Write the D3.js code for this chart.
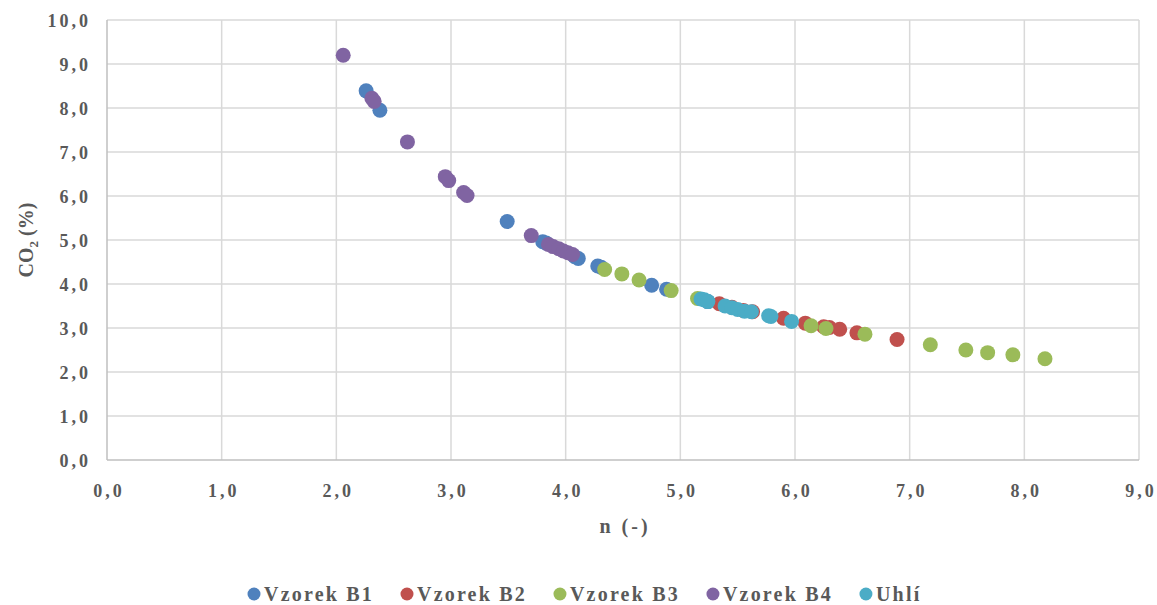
<!DOCTYPE html>
<html>
<head>
<meta charset="utf-8">
<script src="https://cdn.jsdelivr.net/npm/d3@7"></script>
<style>
  html, body { margin: 0; padding: 0; background: #fff; }
  svg { display: block; }
  text { font-family: "Liberation Serif", "Times New Roman", serif; font-weight: bold; fill: #595959; }
</style>
</head>
<body>
<svg id="chart" width="1157" height="605"></svg>
<script>
// Measured samples: n (-) against CO2 (%)
const seriesNames = ["Vzorek B1", "Vzorek B2", "Vzorek B3", "Vzorek B4", "Uhlí"];
const seriesColors = ["#4F81BD", "#C0504D", "#9BBB59", "#8064A2", "#4BACC6"];

const b1N   = [2.26, 2.38, 3.49, 3.80, 3.83, 4.08, 4.11, 4.28, 4.31, 4.75, 4.88, 5.24];
const b1CO2 = [8.39, 7.95, 5.42, 4.96, 4.93, 4.62, 4.58, 4.41, 4.38, 3.97, 3.88, 3.60];

const b2N   = [5.34, 5.45, 5.55, 5.63, 5.90, 6.09, 6.25, 6.30, 6.39, 6.54, 6.89];
const b2CO2 = [3.55, 3.47, 3.40, 3.37, 3.22, 3.11, 3.03, 3.01, 2.97, 2.89, 2.74];

const b3N   = [4.34, 4.49, 4.64, 4.92, 5.15, 6.14, 6.27, 6.61, 7.18, 7.49, 7.68, 7.90, 8.18];
const b3CO2 = [4.33, 4.23, 4.09, 3.85, 3.67, 3.05, 2.99, 2.86, 2.62, 2.50, 2.44, 2.39, 2.30];

const b4N   = [2.06, 2.31, 2.33, 2.62, 2.95, 2.98, 3.11, 3.14, 3.70, 3.85, 3.89, 3.94, 3.98, 4.02, 4.06];
const b4CO2 = [9.20, 8.22, 8.15, 7.23, 6.44, 6.35, 6.08, 6.01, 5.10, 4.90, 4.85, 4.80, 4.75, 4.71, 4.67];

const uhliN   = [5.18, 5.21, 5.24, 5.39, 5.45, 5.50, 5.56, 5.62, 5.77, 5.79, 5.97];
const uhliCO2 = [3.66, 3.64, 3.60, 3.50, 3.46, 3.42, 3.38, 3.37, 3.28, 3.26, 3.15];

const xTicks = [0, 1, 2, 3, 4, 5, 6, 7, 8, 9];
const yTicks = [0, 1, 2, 3, 4, 5, 6, 7, 8, 9, 10];

const series = [
  { name: seriesNames[0], color: seriesColors[0], xs: b1N, ys: b1CO2 },
  { name: seriesNames[1], color: seriesColors[1], xs: b2N, ys: b2CO2 },
  { name: seriesNames[2], color: seriesColors[2], xs: b3N, ys: b3CO2 },
  { name: seriesNames[3], color: seriesColors[3], xs: b4N, ys: b4CO2 },
  { name: seriesNames[4], color: seriesColors[4], xs: uhliN, ys: uhliCO2 }
];

const svg = d3.select("#chart");
const plotL = 107, plotR = 1139, plotT = 20, plotB = 460;
const SERIF = "'Liberation Serif', 'Times New Roman', serif";
const tickLS = 3;   // tick label letter spacing

const x = d3.scaleLinear().domain([0, 9]).range([plotL, plotR]);
const y = d3.scaleLinear().domain([0, 10]).range([plotB, plotT]);
const fmt = v => d3.format(".1f")(v).replace(".", ",");

// grid
const grid = svg.append("g");
grid.selectAll(".vg").data(xTicks.filter(d => d > 0)).join("line")
  .attr("x1", d => x(d)).attr("x2", d => x(d))
  .attr("y1", plotT).attr("y2", plotB)
  .attr("stroke", "#d9d9d9").attr("stroke-width", 1.5);
grid.selectAll(".hg").data(yTicks.filter(d => d > 0)).join("line")
  .attr("x1", plotL).attr("x2", plotR)
  .attr("y1", d => y(d)).attr("y2", d => y(d))
  .attr("stroke", "#d9d9d9").attr("stroke-width", 1.5);

// axis lines
svg.append("line").attr("x1", plotL).attr("x2", plotL).attr("y1", plotT).attr("y2", plotB)
  .attr("stroke", "#bfbfbf").attr("stroke-width", 1.5);
svg.append("line").attr("x1", plotL).attr("x2", plotR).attr("y1", plotB).attr("y2", plotB)
  .attr("stroke", "#bfbfbf").attr("stroke-width", 1.5);

// tick labels
const xAxis = d3.axisBottom(x).tickValues(xTicks).tickFormat(fmt).tickSize(0).tickPadding(0);
const gx = svg.append("g").attr("transform", `translate(0,${plotB})`).call(xAxis)
  .attr("font-family", SERIF).attr("font-size", 18);
gx.select(".domain").remove();
gx.selectAll("text").attr("dy", null).attr("y", 37).attr("dx", tickLS / 2)
  .style("letter-spacing", tickLS + "px").attr("fill", "#595959");

const yAxis = d3.axisLeft(y).tickValues(yTicks).tickFormat(fmt).tickSize(0).tickPadding(0);
const gy = svg.append("g").attr("transform", `translate(${plotL},0)`).call(yAxis)
  .attr("font-family", SERIF).attr("font-size", 18);
gy.select(".domain").remove();
gy.selectAll("text").attr("x", 88 + tickLS - plotL).attr("dy", "0.35em")
  .style("letter-spacing", tickLS + "px").attr("fill", "#595959");

// axis titles
svg.append("text").attr("x", x(4.5) + 2).attr("y", 533).attr("text-anchor", "middle")
  .attr("font-family", SERIF).style("font-size", "20px").style("letter-spacing", "3px")
  .text("n (-)");

const yt = svg.append("text").attr("transform", `translate(33,${(plotT + plotB) / 2}) rotate(-90)`)
  .attr("text-anchor", "middle").attr("font-family", SERIF).style("font-size", "20px");
yt.append("tspan").text("CO");
yt.append("tspan").attr("dy", 5).style("font-size", "13px").text("2");
yt.append("tspan").attr("dy", -5).text(" (%)");

// points
series.forEach(s => {
  svg.append("g").selectAll("circle")
    .data(s.xs.map((v, i) => [v, s.ys[i]]))
    .join("circle")
    .attr("cx", d => x(d[0])).attr("cy", d => y(d[1]))
    .attr("r", 7.5).attr("fill", s.color);
});

// legend
const legend = svg.append("g").attr("transform", "translate(0,594)");
let lx = 254;
series.forEach(s => {
  legend.append("circle").attr("cx", lx).attr("cy", 0).attr("r", 6.5).attr("fill", s.color);
  const t = legend.append("text").attr("x", lx + 10).attr("dy", "0.35em")
    .attr("font-family", SERIF).style("font-size", "20px").style("letter-spacing", "2.2px")
    .text(s.name);
  lx += 10 + t.node().getComputedTextLength() + 33;
});
</script>
</body>
</html>
